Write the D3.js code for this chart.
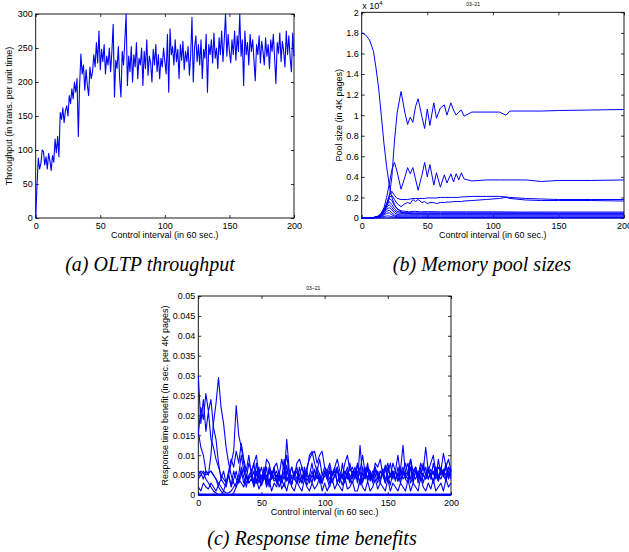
<!DOCTYPE html>
<html>
<head>
<meta charset="utf-8">
<script src="https://cdn.jsdelivr.net/npm/d3@7"></script>
<style>
  body { margin: 0; background: #fff; }
  svg { display: block; }
  text { font-family: "Liberation Sans", Arial, sans-serif; fill: #000; }
  .caption { font-family: "Liberation Serif", "Times New Roman", serif; font-style: italic; font-size: 20px; }
</style>
</head>
<body>
<svg id="chart" width="629" height="552"></svg>
<script>
// ---- data ----
const intervalTicks = [0, 50, 100, 150, 200];
const throughputTicks = [0, 50, 100, 150, 200, 250, 300];
const poolTicks = [0, 0.2, 0.4, 0.6, 0.8, 1, 1.2, 1.4, 1.6, 1.8, 2];          // x 10^4 pages
const benefitTicks = [0, 0.005, 0.01, 0.015, 0.02, 0.025, 0.03, 0.035, 0.04, 0.045, 0.05];

// (a) throughput, one value per control interval 0..200
const throughput = [
  0, 48, 88, 72, 80, 100, 98, 78, 90, 72, 95, 84, 70, 92, 82, 116, 96, 120, 90, 155,
  145, 162, 140, 158, 165, 150, 180, 168, 190, 175, 200, 185, 205, 120, 195, 241, 212, 225, 188, 218,
  195, 180, 222, 205, 215, 240, 222, 258, 228, 275, 218, 248, 230, 255, 212, 238, 225, 250, 215, 245,
  285, 178, 232, 220, 252, 205, 178, 245, 225, 260, 300, 195, 238, 215, 252, 200, 240, 222, 258, 205,
  235, 225, 250, 195, 245, 220, 262, 210, 238, 228, 200, 248, 225, 255, 215, 240, 205, 235, 222, 250,
  230, 212, 270, 185, 278, 240, 252, 225, 262, 230, 248, 205, 255, 232, 260, 218, 245, 230, 252, 210,
  240, 295, 200, 250, 268, 230, 255, 225, 262, 205, 248, 235, 270, 185, 255, 240, 262, 228, 272, 235,
  250, 220, 265, 240, 275, 230, 262, 300, 238, 270, 245, 228, 262, 240, 275, 232, 268, 245, 300, 238,
  262, 195, 275, 240, 258, 225, 270, 245, 262, 232, 202, 255, 240, 268, 228, 260, 245, 225, 265, 238,
  255, 220, 262, 245, 270, 235, 198, 258, 242, 272, 230, 260, 245, 222, 275, 240, 268, 235, 215, 272,
  238
];

// (b) pool sizes (x 10^4 pages)
const poolX = [0, 3, 6, 9, 11, 13, 15, 17, 19, 21, 23, 25, 27, 30, 33, 35, 37, 39, 41, 43,
  46, 48, 50, 52, 55, 57, 60, 63, 65, 68, 70, 72, 74, 76, 78, 84, 95, 105, 110, 113,
  125, 137, 150, 175, 200];
const poolBig = [1.80, 1.78, 1.73, 1.62, 1.45, 1.25, 0.99, 0.72, 0.50, 0.32, 0.20, 0.13, 0.09, 0.06, 0.05, 0.045, 0.04, 0.04, 0.04, 0.04,
  0.04, 0.04, 0.04, 0.04, 0.04, 0.04, 0.04, 0.04, 0.04, 0.04, 0.04, 0.04, 0.04, 0.04, 0.04, 0.04, 0.04, 0.04, 0.04, 0.04,
  0.04, 0.04, 0.04, 0.04, 0.04];
const poolTop = [0, 0, 0, 0.005, 0.01, 0.02, 0.04, 0.08, 0.12, 0.2, 0.4, 0.75, 1.02, 1.23, 1.02, 0.91, 0.98, 0.93, 1.08, 1.16,
  0.98, 0.87, 1.06, 0.9, 1.12, 0.97, 1.07, 1.1, 1.0, 1.12, 1.05, 1.0, 1.03, 1.05, 0.99, 1.03, 1.03, 1.03, 1.0, 1.04,
  1.04, 1.04, 1.045, 1.05, 1.055];
const poolMid = [0, 0, 0, 0.005, 0.01, 0.02, 0.05, 0.1, 0.2, 0.33, 0.47, 0.54, 0.45, 0.28, 0.4, 0.49, 0.43, 0.49, 0.38, 0.27,
  0.42, 0.54, 0.4, 0.52, 0.32, 0.44, 0.3, 0.42, 0.34, 0.43, 0.35, 0.43, 0.37, 0.44, 0.38, 0.36, 0.37, 0.37, 0.37, 0.37,
  0.37, 0.355, 0.365, 0.365, 0.37];
const poolA = [0, 0, 0, 0.005, 0.01, 0.02, 0.04, 0.08, 0.14, 0.22, 0.26, 0.22, 0.19, 0.18, 0.18, 0.18, 0.185, 0.19, 0.19, 0.19,
  0.19, 0.19, 0.195, 0.195, 0.195, 0.195, 0.2, 0.2, 0.2, 0.2, 0.2, 0.2, 0.2, 0.205, 0.205, 0.21, 0.21, 0.21, 0.205, 0.2,
  0.19, 0.185, 0.18, 0.18, 0.18];
const poolB = [0, 0, 0, 0.005, 0.01, 0.02, 0.04, 0.08, 0.13, 0.2, 0.22, 0.18, 0.14, 0.11, 0.14, 0.15, 0.14, 0.18, 0.16, 0.18,
  0.15, 0.16, 0.14, 0.15, 0.15, 0.14, 0.15, 0.15, 0.155, 0.155, 0.16, 0.16, 0.16, 0.16, 0.165, 0.17, 0.18, 0.19, 0.2, 0.19,
  0.175, 0.17, 0.17, 0.17, 0.165];

const poolXLow = [0, 3, 6, 9, 11, 13, 15, 17, 19, 21, 23, 25, 27, 30, 33, 36, 40, 45, 50, 60, 80, 100, 120, 150, 200];
const poolLow1 = [0, 0, 0, 0.005, 0.01, 0.02, 0.04, 0.08, 0.13, 0.19, 0.17, 0.12, 0.09, 0.07, 0.065, 0.06, 0.065, 0.06, 0.062, 0.06, 0.06, 0.06, 0.058, 0.058, 0.058];
const poolLow2 = [0, 0, 0, 0.004, 0.008, 0.018, 0.035, 0.07, 0.115, 0.16, 0.13, 0.09, 0.065, 0.055, 0.05, 0.052, 0.05, 0.05, 0.05, 0.05, 0.05, 0.05, 0.05, 0.048, 0.048];
const poolLow3 = [0, 0, 0, 0.003, 0.007, 0.015, 0.03, 0.06, 0.1, 0.13, 0.1, 0.07, 0.05, 0.045, 0.04, 0.042, 0.04, 0.04, 0.04, 0.04, 0.04, 0.04, 0.04, 0.04, 0.04];
const poolLow4 = [0, 0, 0, 0.003, 0.006, 0.013, 0.025, 0.05, 0.085, 0.1, 0.08, 0.05, 0.035, 0.03, 0.03, 0.03, 0.03, 0.03, 0.03, 0.03, 0.03, 0.03, 0.03, 0.03, 0.03];
const poolLow5 = [0, 0, 0, 0.002, 0.005, 0.01, 0.02, 0.04, 0.065, 0.075, 0.05, 0.03, 0.022, 0.02, 0.02, 0.02, 0.02, 0.02, 0.02, 0.02, 0.02, 0.02, 0.02, 0.02, 0.02];
const poolLow6 = [0, 0, 0, 0.002, 0.004, 0.008, 0.015, 0.03, 0.045, 0.05, 0.03, 0.018, 0.012, 0.01, 0.01, 0.01, 0.01, 0.01, 0.01, 0.01, 0.01, 0.01, 0.01, 0.01, 0.01];
const poolLow7 = [0, 0, 0, 0.001, 0.002, 0.004, 0.008, 0.015, 0.02, 0.02, 0.012, 0.008, 0.006, 0.005, 0.005, 0.005, 0.005, 0.005, 0.005, 0.005, 0.005, 0.005, 0.005, 0.005, 0.005];
const poolLow8 = [0, 0, 0, 0, 0, 0, 0, 0, 0, 0, 0, 0, 0, 0, 0, 0, 0, 0, 0, 0, 0, 0, 0, 0, 0];

// (c) response time benefit, every 2 intervals, in units of 0.001 sec per 4K page
const benefitUnit = 0.001;
const benefit1 = [30, 18, 24, 16, 21, 14, 12, 9, 7, 5, 4,
  3, 5, 2.5, 6, 4, 3, 7, 4.5, 2, 5,   6, 3, 8, 4, 2.5, 5, 3.5, 6, 4, 7,
  3, 5, 4, 9, 3.5, 5.5, 2.5, 6, 4, 5,   3, 7, 4.5, 5, 3, 6.5, 4, 5.5, 3, 6,
  4.5, 7, 3.5, 5, 6, 3, 8, 4, 5.5, 3.5,   6, 4, 7.5, 5, 3, 6, 4.5, 5.5, 3.5, 7,
  5, 4, 6.5, 3, 5.5, 8, 4, 6, 3.5, 5,   7, 4, 5.5, 9, 3.5, 6, 4.5, 7, 3, 5.5,
  6, 4, 8, 5, 3.5, 6.5, 4.5, 7, 5, 6];
const benefit2 = [15, 22, 19, 25.5, 21, 24, 17, 14, 8, 4, 6,
  3, 5, 2, 4, 6, 3, 5, 7, 3, 4,   5, 8, 3, 6, 4, 5.5, 2.5, 7, 4, 5,
  6, 3.5, 5, 4, 7.5, 3, 5, 4.5, 6, 3,   5, 4, 7, 9, 10.5, 11, 8, 10, 11, 7,
  5, 3, 6, 4.5, 7, 3.5, 5, 6, 4, 8,   4.5, 6, 3, 12.5, 5, 4, 6.5, 3.5, 5, 7,
  4, 6, 5, 3, 7, 4.5, 5.5, 6, 3.5, 6,   12.5, 5, 4, 7, 3, 6, 5, 4.5, 8, 5,
  4, 6.5, 5, 7, 3.5, 6, 5, 8, 4, 6];
const benefit3 = [6, 5.5, 4, 6, 5, 10, 18, 23, 29.5, 22, 18,
  12, 8, 5, 3, 2, 4, 3, 2, 5, 3,   4, 2.5, 6, 3, 5, 4, 7, 2, 5, 3.5,
  4, 6, 3, 5, 14, 6, 4, 5, 3, 7,   4, 6, 3.5, 5, 8, 4, 6, 3, 5, 4.5,
  6, 4, 5, 7, 3, 5.5, 4, 6, 5, 3,   5, 7, 4, 6, 3.5, 5, 8, 4, 6, 5,
  3, 6, 5, 7.5, 4, 5, 6, 3.5, 7, 4,   5, 6, 8, 4, 5.5, 7, 3, 6, 5, 4,
  7, 5, 6, 4, 9, 5, 6.5, 4, 7, 5];
const benefit4 = [2, 1, 3, 2, 1.5, 3, 2, 1, 2.5, 4, 3,
  2, 5, 8, 11, 22.5, 15, 12, 8, 5, 3,   4, 6, 3, 5, 2.5, 7, 4, 3, 5, 6,
  3, 5, 4, 2, 6, 4.5, 3, 5, 7, 4,   3, 5, 2.5, 4, 6, 3.5, 5, 4, 3, 6,
  4, 2, 5, 6, 3, 4.5, 2.5, 5, 7, 4,   3, 5, 6, 2.5, 4, 7, 3.5, 5, 4, 6,
  5, 3, 6.5, 4, 5, 2.5, 6, 4, 5.5, 3,   6, 4, 3, 7, 5, 4, 6, 3.5, 5, 7,
  4, 5.5, 3, 6, 4, 7, 5, 3.5, 6, 4];
const benefit5 = [16, 12, 10, 6, 5.5, 6, 5, 4, 3, 2, 1,
  0.5, 0.5, 1, 2, 3, 5, 10, 6, 4, 8,   6, 8, 10, 5, 7, 4, 9, 8, 5, 7,
  8, 5, 9, 6, 10, 5, 7, 4.5, 8, 9,   7, 5, 6, 10, 11, 8, 6, 9, 5, 7,
  6, 8, 5, 7, 9, 6, 4.5, 8, 10, 6,   7, 5, 8, 6, 10, 5.5, 7, 6, 4.5, 8,
  7, 9, 5, 6, 8, 4.5, 8, 6, 10, 5,   6, 8, 5, 9, 6, 7, 5, 8, 6, 12,
  6, 8, 10, 5.5, 7, 6, 10.5, 7, 9, 6];
const benefit6 = [5, 6, 5.5, 4, 3, 2, 1, 0.5, 0, 0, 1,
  3, 6, 9, 7, 11, 8, 13, 9, 6, 10,   5, 2, 4, 1.5, 3, 6, 2, 4, 1, 3,
  2, 5, 1.5, 3, 1, 4, 2, 1, 3.5, 2,   1, 4, 2, 1, 3, 1.5, 2.5, 4.5, 1, 3,
  1, 2.5, 4, 1.5, 3, 2, 1, 4.5, 1.5, 2,   3.5, 1, 1, 4, 2, 1, 3.5, 1, 2, 4,
  1.5, 3, 2, 1, 4, 1, 3, 2, 1, 3,   2, 1, 4, 1, 3, 2, 1, 4.5, 2, 1,
  3, 1.5, 4, 1, 2, 3, 1, 4, 2, 3];
const benefit7 = [4, 5, 6, 5, 5.5, 6, 5, 4, 2, 1, 0.3,
  0, 0, 0, 0.5, 2, 4, 6, 3, 5, 4,   6, 3, 5, 7, 2.5, 4, 5, 3, 6, 4,
  5, 2, 4, 6, 3.5, 5, 7, 4, 3, 5,   7, 4, 6, 3, 5, 4, 7, 5, 3, 6,
  4, 6, 3, 5, 7, 4, 5, 3, 6, 5,   4, 6, 5, 3, 7, 5, 4, 6, 3, 5,
  6, 4, 5, 7, 3.5, 5, 6, 4, 5, 7,   4, 5, 6, 3, 5, 7, 4, 6, 5, 4,
  6, 5, 3, 7, 5, 4, 6, 5, 7, 6];
const benefitZero = [0, 0];   // the pools that never gain: flat at 0 from 0 to 200

// ---- drawing ----
const svg = d3.select("#chart");
const blue = "#0000ff";

function panel({ left, top, right, bottom, yMax, yTicks, yFmt, yLabel, yLabelX, id }) {
  const w = right - left, h = bottom - top;
  const g = svg.append("g").attr("transform", `translate(${left},${top})`);
  const x = d3.scaleLinear().domain([0, 200]).range([0, w]);
  const y = d3.scaleLinear().domain([0, yMax]).range([h, 0]);

  g.append("clipPath").attr("id", id)
    .append("rect").attr("x", -1).attr("y", -1).attr("width", w + 2).attr("height", h + 2);

  g.append("rect").attr("width", w).attr("height", h)
    .attr("fill", "none").attr("stroke", "#000").attr("stroke-width", 0.9);

  const styleAxis = (sel) => {
    sel.select(".domain").remove();
    sel.selectAll(".tick line").attr("stroke", "#000").attr("stroke-width", 0.8);
    sel.selectAll("text").attr("font-size", 9).attr("fill", "#000")
      .attr("font-family", "Liberation Sans, Arial, sans-serif");
  };

  g.append("g").attr("transform", `translate(0,${h})`)
    .call(d3.axisBottom(x).tickValues(intervalTicks).tickSizeInner(-3).tickSizeOuter(0).tickPadding(5))
    .call(styleAxis);
  g.append("g")
    .call(d3.axisTop(x).tickValues(intervalTicks).tickSizeInner(-3).tickSizeOuter(0).tickFormat(""))
    .call(styleAxis);
  g.append("g")
    .call(d3.axisLeft(y).tickValues(yTicks).tickSizeInner(-3).tickSizeOuter(0).tickPadding(3).tickFormat(yFmt))
    .call(styleAxis);
  g.append("g").attr("transform", `translate(${w},0)`)
    .call(d3.axisRight(y).tickValues(yTicks).tickSizeInner(-3).tickSizeOuter(0).tickFormat(""))
    .call(styleAxis);

  g.append("text").attr("x", w / 2).attr("y", h + 20).attr("text-anchor", "middle")
    .attr("font-size", 9).text("Control interval (in 60 sec.)");
  g.append("text").attr("transform", `translate(${yLabelX},${h / 2}) rotate(-90)`)
    .attr("text-anchor", "middle").attr("font-size", 9).text(yLabel);

  const plot = g.append("g").attr("clip-path", `url(#${id})`);
  return { g, plot, x, y, w, h };
}

const fmtTrim = (d) => (d === 0 ? "0" : String(+d.toFixed(3)));

// (a) OLTP throughput
const pa = panel({
  left: 35.7, top: 14, right: 294, bottom: 218, yMax: 300,
  yTicks: throughputTicks, yFmt: d3.format("d"),
  yLabel: "Throughput (in trans. per unit time)", yLabelX: -23.5, id: "clipA"
});
pa.plot.append("path")
  .datum(throughput)
  .attr("fill", "none").attr("stroke", blue).attr("stroke-width", 1.1).attr("stroke-linejoin", "round")
  .attr("d", d3.line().x((d, i) => pa.x(i)).y((d) => pa.y(d)));

// (b) Memory pool sizes
const pb = panel({
  left: 361.7, top: 12.3, right: 624, bottom: 218, yMax: 2,
  yTicks: poolTicks, yFmt: fmtTrim,
  yLabel: "Pool size (in 4K pages)", yLabelX: -20, id: "clipB"
});
const poolSeries = [
  { xs: poolX, ys: poolBig }, { xs: poolX, ys: poolTop }, { xs: poolX, ys: poolMid },
  { xs: poolX, ys: poolA }, { xs: poolX, ys: poolB },
  { xs: poolXLow, ys: poolLow1 }, { xs: poolXLow, ys: poolLow2 }, { xs: poolXLow, ys: poolLow3 },
  { xs: poolXLow, ys: poolLow4 }, { xs: poolXLow, ys: poolLow5 }, { xs: poolXLow, ys: poolLow6 },
  { xs: poolXLow, ys: poolLow7 }, { xs: poolXLow, ys: poolLow8 }
];
pb.plot.selectAll("path.pool")
  .data(poolSeries)
  .join("path")
  .attr("class", "pool")
  .attr("fill", "none").attr("stroke", blue).attr("stroke-width", 1)
  .attr("d", (s) => d3.line().x((d, i) => pb.x(s.xs[i])).y((d) => pb.y(d))(s.ys));

pb.g.append("text").attr("x", 0.5).attr("y", -3.5).attr("font-size", 9)
  .text("x 10").append("tspan").attr("dy", -4).attr("font-size", 6).text("4");
pb.g.append("text").attr("x", pb.w * 0.425).attr("y", -6).attr("font-size", 5).attr("text-anchor", "middle").text("03\u201321");

// (c) Response time benefits
const pc = panel({
  left: 198.3, top: 296, right: 451, bottom: 495, yMax: 0.05,
  yTicks: benefitTicks, yFmt: fmtTrim,
  yLabel: "Response time benefit (in sec. per 4K pages)", yLabelX: -30, id: "clipC"
});
const benefitSeries = [benefit1, benefit2, benefit3, benefit4, benefit5, benefit6, benefit7];
pc.plot.selectAll("path.benefit")
  .data(benefitSeries)
  .join("path")
  .attr("class", "benefit")
  .attr("fill", "none").attr("stroke", blue).attr("stroke-width", 1.1).attr("stroke-linejoin", "round")
  .attr("d", d3.line().x((d, i) => pc.x(i * 2)).y((d) => pc.y(d * benefitUnit)));
pc.plot.append("path")
  .datum(benefitZero)
  .attr("fill", "none").attr("stroke", blue).attr("stroke-width", 3)
  .attr("d", d3.line().x((d, i) => pc.x(i * 200)).y((d) => pc.y(d)));
pc.g.append("text").attr("x", pc.w * 0.455).attr("y", -6).attr("font-size", 5).attr("text-anchor", "middle").text("03\u201321");

// captions
svg.append("text").attr("class", "caption").attr("x", 150).attr("y", 271).attr("text-anchor", "middle").text("(a) OLTP throughput");
svg.append("text").attr("class", "caption").attr("x", 482).attr("y", 271).attr("text-anchor", "middle").text("(b) Memory pool sizes");
svg.append("text").attr("class", "caption").attr("x", 312).attr("y", 545).attr("text-anchor", "middle").text("(c) Response time benefits");
</script>
</body>
</html>
